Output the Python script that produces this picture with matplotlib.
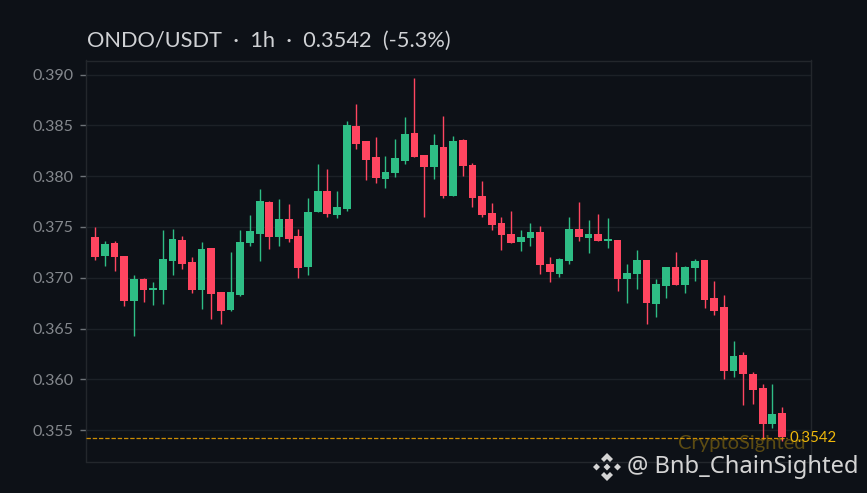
import matplotlib
matplotlib.use('Agg')
import matplotlib.pyplot as plt
import numpy as np
from matplotlib.patches import Polygon

opens = [0.37405, 0.37219, 0.37346, 0.37219, 0.36768, 0.36984, 0.36876, 0.36876, 0.37170, 0.37376,
         0.37160, 0.36876, 0.37297, 0.36856, 0.36680, 0.36827, 0.37346, 0.37435, 0.37748, 0.37405,
         0.37582, 0.37415, 0.37111, 0.37650, 0.37856, 0.37621, 0.37680, 0.38493, 0.38346, 0.38190,
         0.37974, 0.38033, 0.38150, 0.38425, 0.38209, 0.38091, 0.38288, 0.37807, 0.38356, 0.38111,
         0.37807, 0.37640, 0.37542, 0.37435, 0.37356, 0.37395, 0.37454, 0.37140, 0.37042, 0.37170,
         0.37484, 0.37395, 0.37435, 0.37366, 0.37376, 0.36993, 0.37042, 0.37180, 0.36739, 0.36915,
         0.37111, 0.36925, 0.37092, 0.37180, 0.36797, 0.36709, 0.36082, 0.36239, 0.36052, 0.35915,
         0.35562, 0.35670]
highs = [0.37500, 0.37366, 0.37366, 0.37219, 0.37023, 0.37003, 0.36954, 0.37474, 0.37484, 0.37415,
         0.37209, 0.37356, 0.37297, 0.36856, 0.37258, 0.37474, 0.37621, 0.37876, 0.37758, 0.37778,
         0.37729, 0.37484, 0.37788, 0.38121, 0.38072, 0.37856, 0.38542, 0.38709, 0.38346, 0.38386,
         0.38199, 0.38366, 0.38582, 0.38964, 0.38209, 0.38415, 0.38591, 0.38395, 0.38366, 0.38131,
         0.37954, 0.37739, 0.37601, 0.37660, 0.37474, 0.37542, 0.37513, 0.37209, 0.37199, 0.37601,
         0.37748, 0.37572, 0.37631, 0.37591, 0.37376, 0.37140, 0.37278, 0.37180, 0.36984, 0.37111,
         0.37258, 0.37121, 0.37190, 0.37180, 0.36964, 0.36827, 0.36376, 0.36268, 0.36072, 0.35954,
         0.35954, 0.35729]
lows = [0.37180, 0.37121, 0.37072, 0.36719, 0.36425, 0.36758, 0.36729, 0.36739, 0.37023, 0.37082,
        0.36846, 0.36690, 0.36591, 0.36542, 0.36673, 0.36817, 0.37317, 0.37170, 0.37288, 0.37317,
        0.37356, 0.37003, 0.37023, 0.37650, 0.37601, 0.37591, 0.37660, 0.38268, 0.37964, 0.37935,
        0.37886, 0.37993, 0.38121, 0.38190, 0.37601, 0.37974, 0.37788, 0.37804, 0.38003, 0.37699,
        0.37601, 0.37474, 0.37278, 0.37346, 0.37268, 0.37317, 0.37033, 0.36954, 0.37013, 0.37140,
        0.37366, 0.37248, 0.37366, 0.37297, 0.36866, 0.36748, 0.36886, 0.36542, 0.36611, 0.36797,
        0.36925, 0.36846, 0.36964, 0.36699, 0.36631, 0.36003, 0.36023, 0.35748, 0.35758, 0.35415,
        0.35523, 0.35392]
closes = [0.37209, 0.37337, 0.37209, 0.36768, 0.36984, 0.36876, 0.36895, 0.37190, 0.37386, 0.37140,
          0.36876, 0.37288, 0.36837, 0.36670, 0.36856, 0.37356, 0.37464, 0.37758, 0.37405, 0.37582,
          0.37386, 0.37101, 0.37650, 0.37856, 0.37631, 0.37699, 0.38503, 0.38317, 0.38160, 0.37984,
          0.38042, 0.38180, 0.38415, 0.38190, 0.38091, 0.38307, 0.37807, 0.38346, 0.38101, 0.37788,
          0.37621, 0.37523, 0.37425, 0.37346, 0.37405, 0.37454, 0.37131, 0.37062, 0.37190, 0.37484,
          0.37405, 0.37435, 0.37366, 0.37386, 0.36993, 0.37052, 0.37180, 0.36748, 0.36944, 0.37111,
          0.36925, 0.37111, 0.37170, 0.36778, 0.36670, 0.36082, 0.36229, 0.36052, 0.35895, 0.35562,
          0.35660, 0.35431]
yticks = [0.355, 0.360, 0.365, 0.370, 0.375, 0.380, 0.385, 0.390]
last_price = 0.3542
title = 'ONDO/USDT  ·  1h  ·  0.3542  (-5.3%)'

BG = '#0d1117'
GREEN = '#2ebd85'
RED = '#ff4560'
GOLD = '#f0a500'
W, H = 867, 493

plt.rcParams['font.family'] = ['Lato', 'DejaVu Sans']

fig = plt.figure(figsize=(8.67, 4.93), dpi=100, facecolor=BG)
ax = fig.add_axes([86 / W, 1 - 461.5 / H, (811 - 86) / W, (461.5 - 60.5) / H], facecolor=BG)

o, h, l, c = map(np.array, (opens, highs, lows, closes))
x = np.arange(len(o))
cols = [GREEN if cc >= oo else RED for oo, cc in zip(o, c)]

ax.vlines(x, l, h, colors=cols, linewidth=1.0, zorder=3)
ax.bar(x, np.abs(c - o), bottom=np.minimum(o, c), width=0.8, color=cols, linewidth=0, zorder=4)

ax.set_xlim(-0.95, 74.0)
ax.set_ylim(0.35193, 0.39138)
ax.set_xticks([])
ax.set_yticks(yticks)
ax.set_yticklabels(['%.3f' % t for t in yticks])
ax.tick_params(axis='y', colors='#6e7378', labelcolor='#84888d', labelsize=11.5, length=4, width=1, pad=5)
ax.grid(axis='y', color='#1c2127', linewidth=1, zorder=0)
for s in ax.spines.values():
    s.set_color('#23272c')
    s.set_linewidth(1)

# last price line, stops at the label
ax.plot([-0.95, 71.5], [last_price, last_price], color=GOLD, linewidth=0.9, dashes=(3.5, 1.5), alpha=0.85, zorder=5)
ax.text(71.8, last_price, '0.3542', color='#f0b90b', fontsize=10.8, va='center', ha='left', zorder=6, clip_on=False)

# overlay in pixel coordinates for title, watermark and logo
ov = fig.add_axes([0, 0, 1, 1], facecolor='none')
ov.set_xlim(0, W)
ov.set_ylim(H, 0)
ov.axis('off')
ov.text(87, 41, title, color='#d0d2d5', fontsize=15.7, va='center', ha='left')
ov.text(678, 444, 'CryptoSighted', color='#f0b90b', alpha=0.35, fontsize=14.5, va='center', ha='left')
ov.text(627, 467, '@ Bnb_ChainSighted', color='#d4d4d4', fontsize=17.1, va='center', ha='left',
        family=['Noto Sans', 'DejaVu Sans'])

# binance logo
cx, cy = 607, 467
logo = [
    [(0, -14), (6, -8), (3, -5), (0, -8), (-3, -5), (-6, -8)],
    [(0, 14), (6, 8), (3, 5), (0, 8), (-3, 5), (-6, 8)],
    [(-14, 0), (-10.5, -3.5), (-7, 0), (-10.5, 3.5)],
    [(14, 0), (10.5, -3.5), (7, 0), (10.5, 3.5)],
    [(0, -3.5), (3.5, 0), (0, 3.5), (-3.5, 0)],
]
for pts in logo:
    ov.add_patch(Polygon([(cx + a, cy + b) for a, b in pts], closed=True, color='#d4d4d4', linewidth=0))

fig.savefig('out.png', dpi=100, facecolor=BG)
